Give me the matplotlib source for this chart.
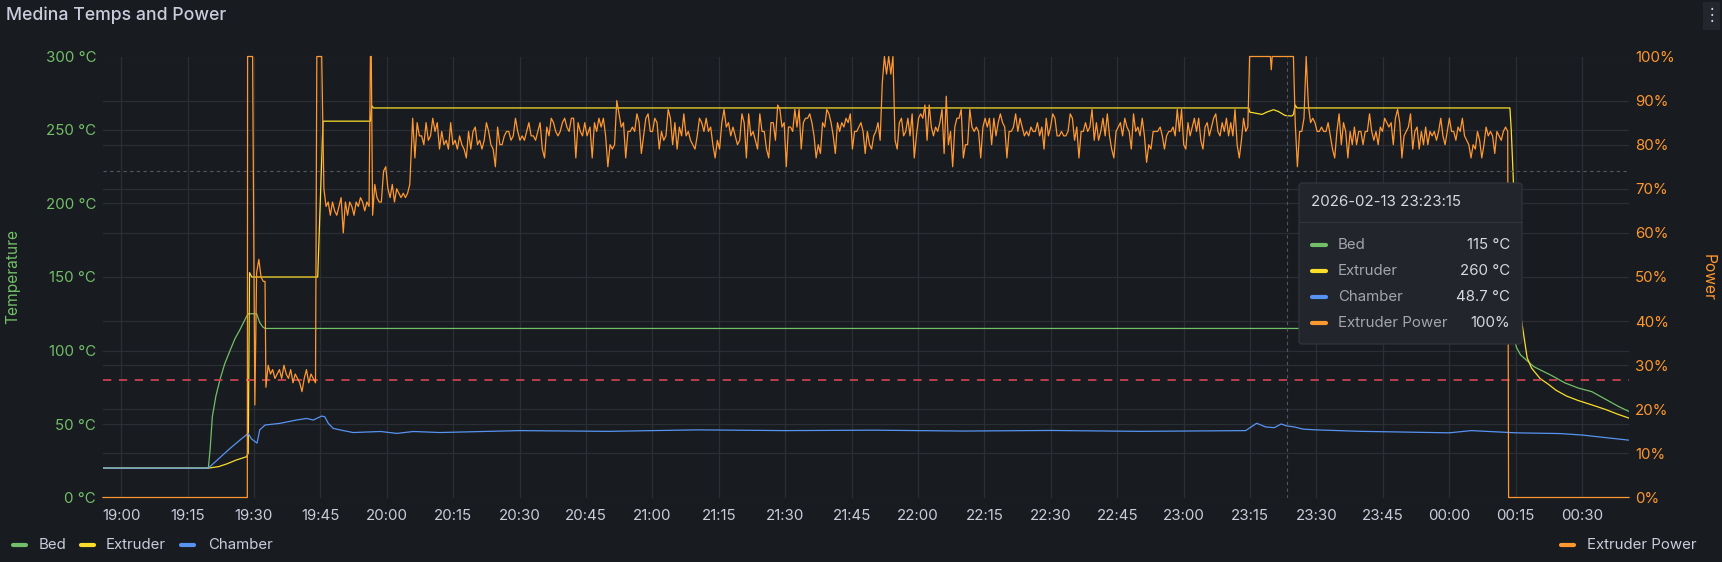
import numpy as np
import pandas as pd
import matplotlib
matplotlib.use("Agg")
import matplotlib.pyplot as plt
import matplotlib.dates as mdates
from matplotlib.lines import Line2D
from matplotlib.patches import FancyBboxPatch, Rectangle
from matplotlib.ticker import MultipleLocator, FuncFormatter
from matplotlib.transforms import IdentityTransform

T0 = pd.Timestamp("2026-02-13 19:00")
W, H = 1722, 562

# --- data: minutes after 19:00 ---
bed_t = [-4.1, 19.7, 20.1, 20.6, 21.4, 22.3, 23.4, 24.6, 25.7, 26.8, 28.3, 28.7, 30.6, 31.3, 32.0, 32.5,
         313.7, 314.3, 315.2, 316.1, 317.6, 319.1, 321.1, 323.1, 326.1, 329.1, 332.2, 335.2, 338.2, 340.6]
bed_v = [20, 20, 33, 55, 69, 80, 91, 100, 108, 114, 123, 125, 125, 119, 116, 115,
         115, 112, 102, 97, 93, 89, 86, 83, 78, 74.5, 72, 67, 62, 58.5]

ext_t = [-4.1, 19.7, 22, 24, 26, 28.3, 28.7, 29.0, 29.5, 44.4, 45.6, 56.3, 56.6, 57.0,
         254.7, 254.9, 257.7, 258.8, 260.3, 261.4, 262.9, 264.4, 264.8, 265.2, 265.6,
         313.7, 314.0, 314.5, 315.2, 316.3, 317.6, 318.6, 320.5, 322.4, 324.1, 326.5, 329.1,
         332.2, 335.2, 338.2, 340.6]
ext_v = [20, 20, 21, 23, 25.5, 27.7, 30, 153, 150, 150, 256, 256, 266.5, 265,
         265, 262.2, 260.6, 262.2, 263.8, 262.6, 259.9, 259.5, 260.5, 267, 265,
         265, 250, 214, 170, 121, 95, 88, 81, 77, 73, 69, 66,
         63, 60, 56.5, 54]

cham_t = [-4.1, 19.7, 24.6, 26.8, 28.7, 29.4, 30.7, 31.3, 32.5, 35.8, 39.6, 41.9, 43.4, 45.3, 46.0,
          46.8, 47.9, 50.2, 52.4, 58.6, 62.3, 66.0, 72.0, 90, 110, 130, 150, 170, 190, 210, 230,
          254, 256.5, 258.5, 260.5, 262, 263.3, 265, 267, 270, 280, 290, 300, 305, 315, 325, 330, 340.6]
cham_v = [20, 20, 33.4, 39, 43.6, 40, 37, 46, 49.3, 50.4, 52.7, 53.8, 52.7, 55.4, 54.9,
          50.4, 47, 45.5, 44.2, 44.9, 43.6, 44.9, 44.2, 45.5, 45, 46, 45.5, 45.8, 45.2, 45.6, 45,
          45.5, 50.5, 48, 47.5, 50, 48.7, 48, 46.5, 46, 45, 44.5, 44, 45.5, 44, 43.5, 42.5, 39]

# extruder power (%): step points + sampled stretches (start, end, values)
pwr_t = [-4.1, 28.5, 28.56, 29.69, 30.2, 30.6, 31.1, 31.6, 32.1, 32.5, 44.2, 45.3, 56.3, 56.5,
         254.9, 259.6, 259.8, 260.0, 264.8, 313.4, 340.6]
pwr_v = [0, 0, 100, 100, 21, 51, 54, 50, 49, 49, 100, 100, 100, 100,
         100, 100, 97, 100, 100, 0, 0]

pwr_a = [25, 30, 28, 29, 27, 28, 29, 27, 30, 28, 27, 29, 26, 28, 27, 26, 24, 27, 29, 26, 28, 27, 26]
pwr_b = [70, 66, 67, 64, 67, 65, 64, 66, 68, 60, 67, 64, 67, 66, 64, 67, 66, 68, 67, 65, 67, 66]
pwr_c = [64, 71, 68, 67, 67, 74, 75, 70, 68, 71, 67, 70, 69, 68, 69, 68, 69, 71]
pwr_d1 = [86, 77, 85, 82, 82, 80, 85, 81, 82, 86, 83, 85, 79, 83, 80, 81, 79, 85, 80, 81,
          79, 82, 80, 79, 77, 83, 79, 83, 84, 80, 81, 79, 81, 85, 83, 80, 79, 75, 84, 80,
          80, 82, 83, 83, 81, 82, 86, 83, 81, 82, 81, 83, 85, 82, 82, 81, 83, 85, 79, 77,
          84, 82, 86, 85, 83, 82, 83, 85, 86, 84, 83, 86, 86, 77, 85, 83, 82, 85, 82]
pwr_d2 = [84, 77, 85, 83, 86, 84, 86, 82, 75, 80, 79, 80, 90, 87, 84, 85, 77, 83, 83, 84,
          83, 87, 85, 78, 82, 86, 87, 83, 83, 86, 85, 79, 83, 81, 82, 88, 86, 80, 85, 79,
          84, 82, 87, 82, 83, 81, 80, 79, 82, 86, 85, 83, 86, 83, 84, 80, 77, 81, 79, 85,
          88, 84, 85, 82, 84, 82, 80, 81, 87, 85, 77, 87, 82, 83, 81, 79, 87, 83, 83, 79,
          77, 85, 85, 81, 89]
pwr_d3 = [88, 84, 85, 75, 84, 84, 83, 88, 84, 88, 79, 85, 86, 86, 87, 85, 82, 77, 80, 78,
          85, 84, 88, 87, 85, 82, 78, 85, 83, 85, 84, 86, 85, 87, 79, 83, 83, 84, 85, 83,
          78, 83, 80, 79, 82, 83, 85, 81, 94, 100, 96, 100, 96, 100, 81, 79, 85, 86, 82, 83,
          86, 82, 87, 77, 82, 86, 87, 86, 89, 81, 89, 84, 82, 84, 83, 85, 88, 78, 91, 80,
          83, 75, 84, 86, 86, 88, 77, 80, 80]
pwr_d4 = [88, 84, 83, 84, 83, 77, 84, 86, 84, 86, 80, 86, 82, 85, 87, 85, 84, 77, 83, 83,
          84, 87, 83, 86, 84, 82, 83, 82, 84, 83, 83, 85, 82, 84, 79, 86, 82, 84, 87, 86,
          82, 82, 83, 82, 82, 83, 87, 86, 81, 84, 77, 83, 83, 85, 83, 84, 88, 81, 85, 81,
          83, 86, 82, 87, 82, 79, 77, 83, 84, 85, 82, 86, 84, 83, 79, 87, 83, 84, 82, 86,
          82, 76, 80, 79, 83, 83, 83]
pwr_d5 = [84, 82, 79, 82, 83, 83, 84, 82, 88, 83, 88, 80, 79, 85, 82, 84, 86, 83, 86, 81,
          79, 84, 85, 82, 84, 86, 87, 83, 82, 85, 83, 86, 82, 85, 82, 88, 80, 77, 81, 86, 83, 84]
pwr_e1 = [85, 75, 83, 83, 86, 100, 89, 85, 86, 85, 83, 83, 84, 83, 83, 85, 82, 79, 77, 83,
          87, 80, 85, 83, 77]
pwr_e2 = [83, 80, 84, 80, 83, 83, 80, 83, 83, 87, 83, 81, 83, 80, 84, 83, 86, 85, 84, 85,
          80, 86, 88, 85, 77, 82, 83, 84, 87, 79, 83, 84, 79, 83, 80, 84, 80, 83, 82, 83,
          81, 83, 86, 82, 80, 83, 86, 83, 83, 81, 84, 83, 86, 82, 81, 80, 77, 80, 79, 83,
          81, 77, 80, 84, 82, 83, 82, 78, 83, 82, 81, 83, 84, 83]
pwr_spans = [(32.7, 43.9, pwr_a), (45.8, 56.0, pwr_b), (56.8, 65.2, pwr_c),
             (65.85, 105.23, pwr_d1), (105.9, 148.3, pwr_d2), (148.8, 191.2, pwr_d3),
             (191.7, 234.1, pwr_d4), (234.7, 254.5, pwr_d5), (265.2, 277.1, pwr_e1),
             (277.6, 313.2, pwr_e2)]

threshold_c = 80
hover_min = 263.25
hover_temp = 222.4
tip_title = "2026-02-13 23:23:15"
tip_names = ["Bed", "Extruder", "Chamber", "Extruder Power"]
tip_values = ["115 °C", "260 °C", "48.7 °C", "100%"]

BG = "#181b1f"
GRID = "#2b2e34"
TEXT = "#ccccdc"
GREEN, YELLOW, BLUE, ORANGE = "#73bf69", "#fade2a", "#5794f2", "#ff9830"

plt.rcParams["font.family"] = ["Inter", "DejaVu Sans"]


def ts(mins):
    return T0 + pd.to_timedelta(np.asarray(mins, dtype=float), unit="min")


# assemble power series
pt = list(pwr_t)
pv = list(pwr_v)
for t0, t1, vals in pwr_spans:
    pt += list(np.linspace(t0, t1, len(vals)))
    pv += vals
order = np.argsort(pt)
pt = np.array(pt)[order]
pv = np.array(pv)[order]

fig = plt.figure(figsize=(W / 100, H / 100), dpi=100, facecolor=BG)
left, right, top, bottom = 103, 1629, 56.5, 497.5
ax = fig.add_axes([left / W, 1 - bottom / H, (right - left) / W, (bottom - top) / H])
ax.set_facecolor(BG)
for s in ax.spines.values():
    s.set_visible(False)

ax.set_xlim(ts(-4.1), ts(340.6))
ax.set_ylim(0, 300)
ax.yaxis.set_major_locator(MultipleLocator(50))
ax.yaxis.set_minor_locator(MultipleLocator(30))
ax.yaxis.set_major_formatter(FuncFormatter(lambda v, p: f"{v:.0f} °C"))
ax.xaxis.set_major_locator(mdates.MinuteLocator(byminute=[0, 15, 30, 45]))
ax.xaxis.set_major_formatter(mdates.DateFormatter("%H:%M"))
ax.grid(True, which="major", color=GRID, lw=0.9)
ax.grid(True, which="minor", axis="y", color=GRID, lw=0.9)
ax.set_axisbelow(True)
ax.tick_params(axis="y", which="both", length=0, pad=5, labelcolor=GREEN, labelsize=10.8)
ax.tick_params(axis="x", length=0, pad=8, labelcolor=TEXT, labelsize=10.8)

ax.plot(ts(bed_t), bed_v, color=GREEN, lw=0.9)
ax.plot(ts(ext_t), ext_v, color=YELLOW, lw=0.9)
ax.plot(ts(cham_t), cham_v, color=BLUE, lw=0.9)

ax.axhline(threshold_c, color="#c8424f", lw=1.3, ls=(0, (4.6, 4.2)))
ax.axvline(ts(hover_min), color="#54575f", lw=0.8, ls=(0, (3, 3)))
ax.axhline(hover_temp, color="#54575f", lw=0.8, ls=(0, (3, 3)))

ax2 = ax.twinx()
for s in ax2.spines.values():
    s.set_visible(False)
ax2.set_ylim(0, 100)
ax2.yaxis.set_major_locator(MultipleLocator(10))
ax2.yaxis.set_major_formatter(FuncFormatter(lambda v, p: f"{v:.0f}%"))
ax2.tick_params(axis="y", length=0, pad=4.5, labelcolor=ORANGE, labelsize=10.8)
ax2.plot(ts(pt), pv, color=ORANGE, lw=0.9, clip_on=False)

# titles and axis labels
fig.text(6 / W, 1 - 15 / H, "Medina Temps and Power", color=TEXT, fontsize=12.7,
         fontweight="medium", ha="left", va="center")
fig.text(13 / W, 1 - 277 / H, "Temperature", color=GREEN, fontsize=11.2, rotation=90,
         ha="center", va="center")
fig.text(1708 / W, 1 - 277 / H, "Power", color=ORANGE, fontsize=11.2, rotation=270,
         ha="center", va="center")

px = IdentityTransform()
fig.add_artist(Rectangle((1703, H - 30), 17, 28, transform=px, facecolor="#23262c", edgecolor="none"))
fig.text(1711.5 / W, 1 - 15 / H, "⋮", color=TEXT, fontsize=12, ha="center", va="center",
         family=["DejaVu Sans"])

# legend
def swatch(x0, x1, y, color, lw=3.0):
    fig.add_artist(Line2D([x0, x1], [H - y, H - y], transform=px, color=color, lw=lw,
                          solid_capstyle="round"))

leg_y = 545
for name, color, sx, tx in [("Bed", GREEN, 13, 39), ("Extruder", YELLOW, 81, 106),
                            ("Chamber", BLUE, 181, 208)]:
    swatch(sx, sx + 13, leg_y, color)
    fig.text(tx / W, 1 - leg_y / H, name, color=TEXT, fontsize=10.8, ha="left", va="center")
swatch(1561, 1574, leg_y, ORANGE)
fig.text(1587 / W, 1 - leg_y / H, "Extruder Power", color=TEXT, fontsize=10.8, ha="left", va="center")

# tooltip
tx0, tx1, ty0, ty1 = 1299, 1522, 183, 344
fig.add_artist(FancyBboxPatch((tx0, H - ty1), tx1 - tx0, ty1 - ty0, transform=px,
                              boxstyle="round,pad=0,rounding_size=3",
                              facecolor="#22252b", edgecolor="#33363d", lw=0.8, zorder=20))
fig.add_artist(Line2D([tx0, tx1], [H - 222, H - 222], transform=px, color="#33363d", lw=0.8, zorder=21))
fig.text(1311 / W, 1 - 202 / H, tip_title, color="#d8d9e0", fontsize=10.8, ha="left",
         va="center", zorder=22)
for i, (name, val, color) in enumerate(zip(tip_names, tip_values, [GREEN, YELLOW, BLUE, ORANGE])):
    y = 245 + i * 25.9
    fig.add_artist(Line2D([1312, 1326], [H - y, H - y], transform=px, color=color, lw=3.0,
                          solid_capstyle="round", zorder=22))
    fig.text(1338 / W, 1 - y / H, name, color="#a4a6ae", fontsize=10.8, ha="left",
             va="center", zorder=22)
    fig.text(1510 / W, 1 - y / H, val, color="#d8d9e0", fontsize=10.8, ha="right",
             va="center", zorder=22)

fig.savefig("out.png", dpi=100, facecolor=BG)
